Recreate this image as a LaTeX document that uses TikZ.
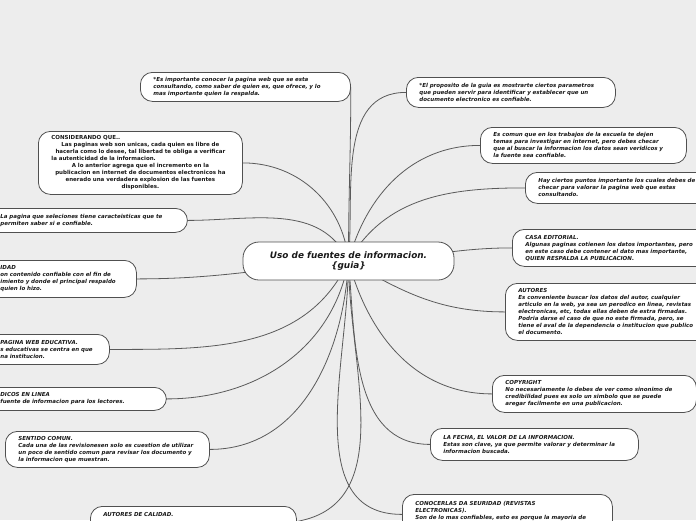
\documentclass[tikz,border=0pt]{standalone}
\usepackage{fontspec}
\usepackage{xcolor}
\usepackage{tikz}
\usetikzlibrary{positioning}
\newfontfamily\mapfont{DejaVu Sans}
\definecolor{paper}{HTML}{EDEDED}
\definecolor{rimgray}{HTML}{505050}
\definecolor{linkgray}{HTML}{5A5A5A}
\pgfdeclarelayer{edges}
\pgfsetlayers{edges,main}

\begin{document}
\begin{tikzpicture}[
        x=1pt, y=-1pt,
        ideabox/.style={draw=rimgray, fill=white, line width=0.8pt, rounded corners=12pt, anchor=north west,
            align=left, inner xsep=13pt, inner ysep=4pt, text=black!90,
            font=\mapfont\fontsize{5.5}{7}\selectfont\bfseries\itshape},
        plainbox/.style={ideabox, font=\mapfont\fontsize{5.5}{7}\selectfont\bfseries, align=center},
        guiabox/.style={draw=rimgray, fill=white, line width=0.8pt, rounded corners=16pt, align=center,
            minimum width=211pt, minimum height=38pt, text=black!90,
            font=\mapfont\fontsize{8.9}{10.5}\selectfont\bfseries\itshape},
        branch/.style={draw=linkgray, line width=0.8pt},
    ]
    \useasboundingbox (0,0) rectangle (696,520);

    % centre
    \node[guiabox] (guia) at (348.5,261) {Uso de fuentes de informacion.\\\{guia\}};

    % === left branches ===
    \node[ideabox, text width=184pt, minimum height=29pt] (imp) at (140,72) {*Es importante conocer la pagina web que se esta\\consultando, como saber de quien es, que ofrece, y lo\\mas importante quien la respalda.};
    \node[plainbox, text width=178pt, minimum height=63pt] (cons) at (38,131) {\makebox[178pt][l]{CONSIDERANDO QUE..}\\*Las paginas web son unicas, cada quien es libre de\\hacerla como lo desee, tal libertad te obliga a verificar\\\makebox[178pt][l]{la autenticidad de la informacion.}\\*A lo anterior agrega que el incremento en la\\publicacion en internet de documentos electronicos ha\\enerado una verdadera explosion de las fuentes\\disponibles.};
    \node[ideabox, text width=174pt, minimum height=24pt] (carac) at (-13,208) {La pagina que seleciones tiene caracteisticas que te\\permiten saber si e confiable.};
    \node[ideabox, text width=123pt, minimum height=37pt] (idad) at (-13,260) {IDAD\\on contenido confiable con el fin de\\imiento y donde el principal respaldo\\quien lo hizo.};
    \node[ideabox, text width=96pt, minimum height=30pt] (educ) at (-13,334) {PAGINA WEB EDUCATIVA.\\s educativas se centra en que\\na institucion.};
    \node[ideabox, text width=153pt, minimum height=23pt] (dicos) at (-13,387) {DICOS EN LINEA\\fuente de informacion para los lectores.};
    \node[ideabox, text width=178pt, minimum height=36pt] (sent) at (5,431) {SENTIDO COMUN.\\Cada una de las revisionesen solo es cuestion de utilizar\\un poco de sentido comun para revisar los documento y\\la informacion que muestran.};
    \node[ideabox, text width=180pt, minimum height=30pt, inner ysep=6pt] (calid) at (90,506) {AUTORES DE CALIDAD.\\\mbox{}\\\mbox{}};

    % === right branches ===
    \node[ideabox, text width=183pt, minimum height=30pt] (prop) at (406,77) {*El proposito de la guia es mostrarte ciertos parametros\\que pueden servir para identificar y establecer que un\\documento electronico es confiable.};
    \node[ideabox, text width=180pt, minimum height=36pt] (escu) at (480,127) {Es comun que en los trabajos de la escuela te dejen\\temas para investigar en internet, pero debes checar\\que al buscar la informacion los datos sean veridicos y\\la fuente sea confiable.};
    \node[ideabox, text width=182pt, minimum height=31pt] (punt) at (525,172) {Hay ciertos puntos importante los cuales debes de\\checar para valorar la pagina web que estas\\consultando.};
    \node[ideabox, text width=182pt, minimum height=37pt] (casa) at (512,229) {CASA EDITORIAL.\\Algunas paginas cotienen los datos importantes, pero\\en este caso debe contener el dato mas importante,\\QUIEN RESPALDA LA PUBLICACION.};
    \node[ideabox, text width=187pt, minimum height=57pt] (aut) at (505,283) {AUTORES\\Es conveniente buscar los datos del autor, cualquier\\articulo en la web, ya sea un perodico en linea, revistas\\electronicas, etc, todas ellas deben de estra firmadas.\\Podria darse el caso de que no este firmada, pero, se\\tiene el aval de la dependencia o institucion que publico\\el documento.};
    \node[ideabox, text width=178pt, minimum height=37pt] (copy) at (492,375) {COPYRIGHT\\No necesariamente lo debes de ver como sinonimo de\\credibilidad pues es solo un simbolo que se puede\\aregar facilmente en una publicacion.};
    \node[ideabox, text width=182pt, minimum height=32pt] (fech) at (430,428) {LA FECHA, EL VALOR DE LA INFORMACION.\\Estas son clave, ya que permite valorar y determinar la\\informacion buscada.};
    \node[ideabox, text width=184pt, minimum height=40pt, inner ysep=5pt] (revi) at (402,494) {CONOCERLAS DA SEURIDAD (REVISTAS\\ELECTRONICAS).\\Son de lo mas confiables, esto es porque la mayoria de\\\mbox{}};

    % connectors, behind the boxes
    \begin{pgfonlayer}{edges}
    \fill[paper] (0,0) rectangle (696,520);
    \draw[branch] (guia.center) to[out=90,in=-90] (imp.east);
    \draw[branch] (guia.center) to[out=95,in=0] (cons.east);
    \draw[branch] (guia.center) to[out=115,in=0] (carac.east);
    \draw[branch] (guia.center) to[out=185,in=0] (idad.east);
    \draw[branch] (guia.center) to[out=-115,in=0] (educ.east);
    \draw[branch] (guia.center) to[out=-100,in=0] (dicos.east);
    \draw[branch] (guia.center) to[out=-93,in=0] (sent.east);
    \draw[branch] (guia.center) to[out=-90,in=10] (calid.east);
    \draw[branch] (guia.center) to[out=85,in=180] (prop.west);
    \draw[branch] (guia.center) to[out=75,in=180] (escu.west);
    \draw[branch] (guia.center) to[out=60,in=180] (punt.west);
    \draw[branch] (guia.center) to[out=0,in=180] (casa.west);
    \draw[branch] (guia.center) to[out=-30,in=180] (aut.west);
    \draw[branch] (guia.center) to[out=-75,in=180] (copy.west);
    \draw[branch] (guia.center) to[out=-85,in=180] (fech.west);
    \draw[branch] (guia.center) to[out=-90,in=180] (revi.west);
    \end{pgfonlayer}
\end{tikzpicture}
\end{document}
